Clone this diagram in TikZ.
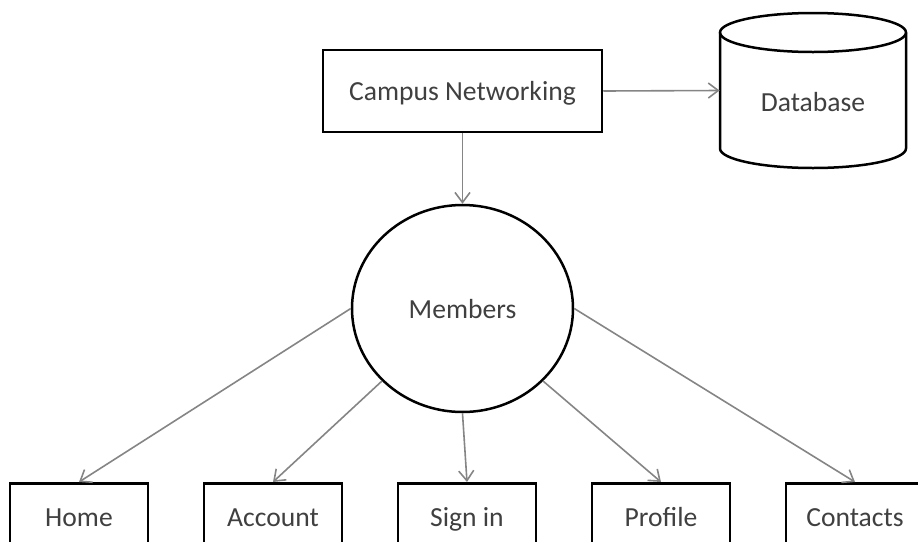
\documentclass[tikz,border=0pt]{standalone}
\usepackage{fontspec}
\setmainfont{Carlito}
\usetikzlibrary{arrows.meta,shapes.geometric}
\definecolor{ink}{HTML}{404040}
\definecolor{wire}{HTML}{858585}
\begin{document}
\begin{tikzpicture}[x=0.5pt,y=-0.5pt,
  font=\fontsize{13.8pt}{16pt}\selectfont, text=ink,
  label text/.style={text height=11pt, text depth=1.1pt},
  box/.style={draw=black, line width=1.25pt, fill=white, rectangle, label text},
  leaf/.style={box, minimum width=69pt, minimum height=33pt, anchor=north},
  link/.style={draw=wire, line width=0.8pt,
    -{Straight Barb[length=5pt,width=7.5pt,line width=0.8pt]}}]
\useasboundingbox (0,0) rectangle (918,542);
\clip (0,0) rectangle (918,542);

% top row: system box and the database store
\node[box, minimum width=139.5pt, minimum height=41pt] (campus) at (462.5,91) {Campus Networking};

\node[rectangle, minimum width=93pt, minimum height=77.5pt, inner sep=0pt] (db) at (813,90.5) {};
\draw[line width=1.25pt, fill=white]
  (720,32.5) -- (720,148.5)
  arc[start angle=180, end angle=360, x radius=46.5pt, y radius=9.75pt]
  -- (906,32.5);
\draw[line width=1.25pt] (813,32.5) ellipse[x radius=46.5pt, y radius=9.75pt];
\node[label text] (dblabel) at (813,102) {Database};

% central entity
\node[draw=black, line width=1.25pt, ellipse, minimum width=110.5pt, minimum height=103.5pt,
  label text] (members) at (462.5,308.5) {Members};

% bottom row of pages
\node[leaf] (home)     at (79,482)  {Home};
\node[leaf] (account)  at (273,482) {Account};
\node[leaf] (signin)   at (467,482) {Sign in};
\node[leaf] (profile)  at (661,482) {Profile};
\node[leaf] (contacts) at (855,482) {Contacts};

% connectors
\draw[link] (campus.east) -- (db.west);
\draw[link] (campus.south) -- (members.north);
\draw[link] (members.180) -- (home.north);
\draw[link] (members.222) -- (account.north);
\draw[link] (members.270) -- (signin.north);
\draw[link] (members.318) -- (profile.north);
\draw[link] (members.0) -- (contacts.north);
\end{tikzpicture}
\end{document}
